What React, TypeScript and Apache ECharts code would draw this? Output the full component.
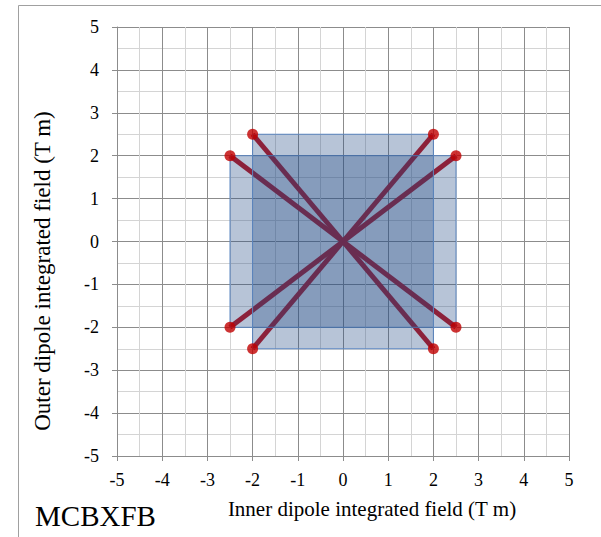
import React, { useEffect, useRef } from "react";
import * as echarts from "echarts";

// Corner points of the two field regions (inner, outer integrated field, T m)
const cornerX = [2, 2.5, 2.5, 2, -2, -2.5, -2.5, -2];
const cornerY = [2.5, 2, -2, -2.5, -2.5, -2, 2, 2.5];
// Rectangles: [x0, y0, x1, y1]
const rectX0 = [-2.5, -2];
const rectY0 = [-2, -2.5];
const rectX1 = [2.5, 2];
const rectY1 = [2, 2.5];
const originX = 0;
const originY = 0;

export default function App() {
  const ref = useRef<HTMLDivElement>(null);
  useEffect(() => {
    if (!ref.current) return;
    const chart = echarts.init(ref.current, undefined, { renderer: "svg" });
    const rectData = rectX0.map((x0, i) => [x0, rectY0[i], rectX1[i], rectY1[i]]);
    const lineSeries = cornerX.map((x, i) => ({
      type: "line",
      data: [
        [originX, originY],
        [x, cornerY[i]],
      ],
      symbol: "none",
      lineStyle: { color: "#c01018", width: 5 },
      z: 1,
      silent: true,
    }));
    const axisCommon = {
      type: "value",
      min: -5,
      max: 5,
      interval: 1,
      axisLine: { show: true, onZero: false, lineStyle: { color: "#8c8c8c", width: 1 } },
      axisTick: { show: true, length: 5, inside: false, lineStyle: { color: "#8c8c8c" } },
      axisLabel: { color: "#000", fontFamily: "Liberation Serif", fontSize: 18 },
      splitLine: { show: true, lineStyle: { color: "#8c8c8c", width: 1 } },
      minorTick: { show: false, splitNumber: 2 },
      minorSplitLine: { show: true, lineStyle: { color: "#d4d4d4", width: 1 } },
    };
    chart.setOption({
      animation: false,
      backgroundColor: "#fff",
      grid: { left: 117, right: 32, top: 27, bottom: 81 },
      xAxis: { ...axisCommon, axisLabel: { ...axisCommon.axisLabel, margin: 15 } },
      yAxis: { ...axisCommon, axisLabel: { ...axisCommon.axisLabel, margin: 18 } },
      graphic: [
        {
          type: "rect",
          shape: { x: 18.5, y: 5.5, width: 700, height: 700 },
          style: { fill: "none", stroke: "#a0a0a0", lineWidth: 1 },
          silent: true,
          z: -10,
        },
        {
          type: "text",
          x: 372,
          y: 509,
          style: {
            text: "Inner dipole integrated field (T m)",
            fontFamily: "Liberation Serif",
            fontSize: 21,
            fill: "#000",
            align: "center",
            verticalAlign: "middle",
          },
        },
        {
          type: "text",
          x: 42,
          y: 271,
          rotation: Math.PI / 2,
          style: {
            text: "Outer dipole integrated field (T m)",
            fontFamily: "Liberation Serif",
            fontSize: 23,
            fill: "#000",
            align: "center",
            verticalAlign: "middle",
          },
        },
        {
          type: "text",
          x: 35,
          y: 516,
          style: {
            text: "MCBXFB",
            fontFamily: "Liberation Serif",
            fontSize: 29,
            fill: "#000",
            align: "left",
            verticalAlign: "middle",
          },
        },
      ],
      series: [
        ...lineSeries,
        {
          type: "custom",
          z: 2,
          silent: true,
          data: rectData,
          renderItem: (params: any, api: any) => {
            const p0 = api.coord([api.value(0), api.value(1)]);
            const p1 = api.coord([api.value(2), api.value(3)]);
            return {
              type: "rect",
              shape: {
                x: Math.min(p0[0], p1[0]),
                y: Math.min(p0[1], p1[1]),
                width: Math.abs(p1[0] - p0[0]),
                height: Math.abs(p1[1] - p0[1]),
              },
              style: { fill: "rgba(30,72,132,0.32)", stroke: "#5b86c0", lineWidth: 1 },
            };
          },
        },
        {
          type: "scatter",
          z: 3,
          silent: true,
          symbol: "circle",
          symbolSize: 11,
          itemStyle: { color: "#c00000" },
          data: cornerX.map((x, i) => [x, cornerY[i]]),
        },
      ],
    });
    return () => chart.dispose();
  }, []);
  return (
    <div
      ref={ref}
      style={{ position: "absolute", left: 0, top: 0, width: 601, height: 537 }}
    />
  );
}
